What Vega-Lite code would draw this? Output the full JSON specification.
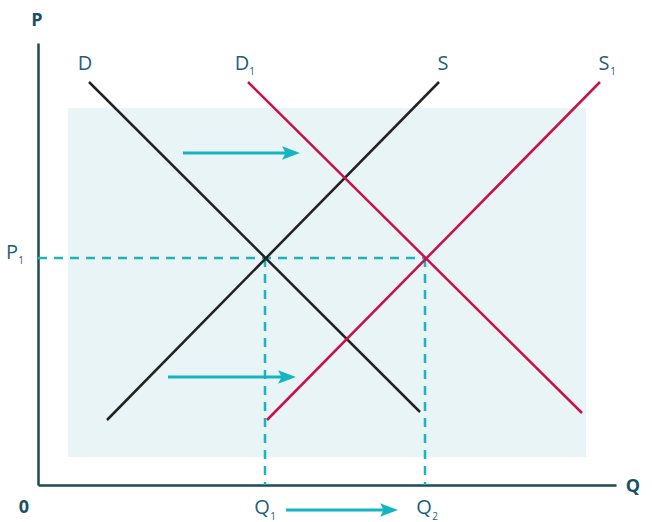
{
  "$schema": "https://vega.github.io/schema/vega-lite/v6.json",
  "width": 578,
  "height": 442,
  "autosize": "none",
  "padding": {"left": 38, "top": 43, "right": 36, "bottom": 37},
  "background": "white",
  "config": {"view": {"stroke": null}, "font": "Open Sans"},
  "encoding": {
    "x": {"field": "x", "type": "quantitative", "scale": {"domain": [0, 578], "nice": false, "zero": false},
      "axis": {"title": null, "labels": false, "ticks": false, "grid": false, "domainColor": "#1e4958", "domainWidth": 2.5}},
    "y": {"field": "y", "type": "quantitative", "scale": {"domain": [0, 442], "nice": false, "zero": false},
      "axis": {"title": null, "labels": false, "ticks": false, "grid": false, "domainColor": "#1e4958", "domainWidth": 2.5}}
  },
  "layer": [
    {
      "data": {"values": [{"x": 30, "x2": 548, "y": 28, "y2": 377}]},
      "mark": {"type": "rect", "color": "#e8f4f6"},
      "encoding": {"x2": {"field": "x2"}, "y2": {"field": "y2"}}
    },
    {
      "data": {"values": [
        {"x": 0, "y": 227, "x2": 387, "y2": 227},
        {"x": 227, "y": 227, "x2": 227, "y2": 0},
        {"x": 387, "y": 227, "x2": 387, "y2": 0}
      ]},
      "mark": {"type": "rule", "color": "#1bb3c0", "strokeWidth": 2.5, "strokeDash": [9, 7]},
      "encoding": {"x2": {"field": "x2"}, "y2": {"field": "y2"}}
    },
    {
      "data": {"values": [
        {"curve": "D", "x": 51, "y": 403, "x2": 382, "y2": 73},
        {"curve": "S", "x": 69, "y": 65, "x2": 401, "y2": 403},
        {"curve": "D1", "x": 210, "y": 403, "x2": 544, "y2": 72},
        {"curve": "S1", "x": 229, "y": 65, "x2": 562, "y2": 403}
      ]},
      "mark": {"type": "rule", "strokeWidth": 2.5},
      "encoding": {
        "x2": {"field": "x2"}, "y2": {"field": "y2"},
        "color": {"field": "curve", "type": "nominal", "legend": null,
          "scale": {"domain": ["D", "S", "D1", "S1"], "range": ["#222222", "#222222", "#c8104a", "#c8104a"]}}
      }
    },
    {
      "data": {"values": [
        {"x": 145, "y": 332, "x2": 252, "y2": 332},
        {"x": 130, "y": 108, "x2": 248, "y2": 108},
        {"x": 248, "y": -25, "x2": 350, "y2": -25}
      ]},
      "mark": {"type": "rule", "color": "#14b5c1", "strokeWidth": 3},
      "encoding": {"x2": {"field": "x2"}, "y2": {"field": "y2"}}
    },
    {
      "data": {"values": [
        {"x": 253, "y": 332},
        {"x": 249, "y": 108},
        {"x": 351, "y": -25}
      ]},
      "mark": {"type": "point", "shape": "M-1,-0.75L1,0L-1,0.75L-0.6,0Z", "filled": true, "color": "#14b5c1", "size": 320, "opacity": 1}
    },
    {
      "data": {"values": [
        {"x": 47, "y": 421, "label": "D"},
        {"x": 204, "y": 421, "label": "D"},
        {"x": 405, "y": 421, "label": "S"},
        {"x": 566, "y": 421, "label": "S"},
        {"x": -26, "y": 232, "label": "P"},
        {"x": 224, "y": -23, "label": "Q"},
        {"x": 386, "y": -23, "label": "Q"}
      ]},
      "mark": {"type": "text", "font": "Open Sans", "fontSize": 20, "color": "#1f6079", "align": "center", "baseline": "middle"},
      "encoding": {"text": {"field": "label"}}
    },
    {
      "data": {"values": [
        {"x": 214, "y": 413, "label": "1"},
        {"x": 575, "y": 413, "label": "1"},
        {"x": -17, "y": 224, "label": "1"},
        {"x": 235, "y": -32, "label": "1"},
        {"x": 397, "y": -32, "label": "2"}
      ]},
      "mark": {"type": "text", "font": "Open Sans", "fontSize": 10, "color": "#1f6079", "align": "center", "baseline": "middle"},
      "encoding": {"text": {"field": "label"}}
    },
    {
      "data": {"values": [
        {"x": -1, "y": 464, "label": "P"},
        {"x": 595, "y": -2, "label": "Q"},
        {"x": -14, "y": -23, "label": "0"}
      ]},
      "mark": {"type": "text", "font": "Open Sans", "fontSize": 18, "fontWeight": "bold", "color": "#1a5064", "align": "center", "baseline": "middle"},
      "encoding": {"text": {"field": "label"}}
    }
  ]
}
